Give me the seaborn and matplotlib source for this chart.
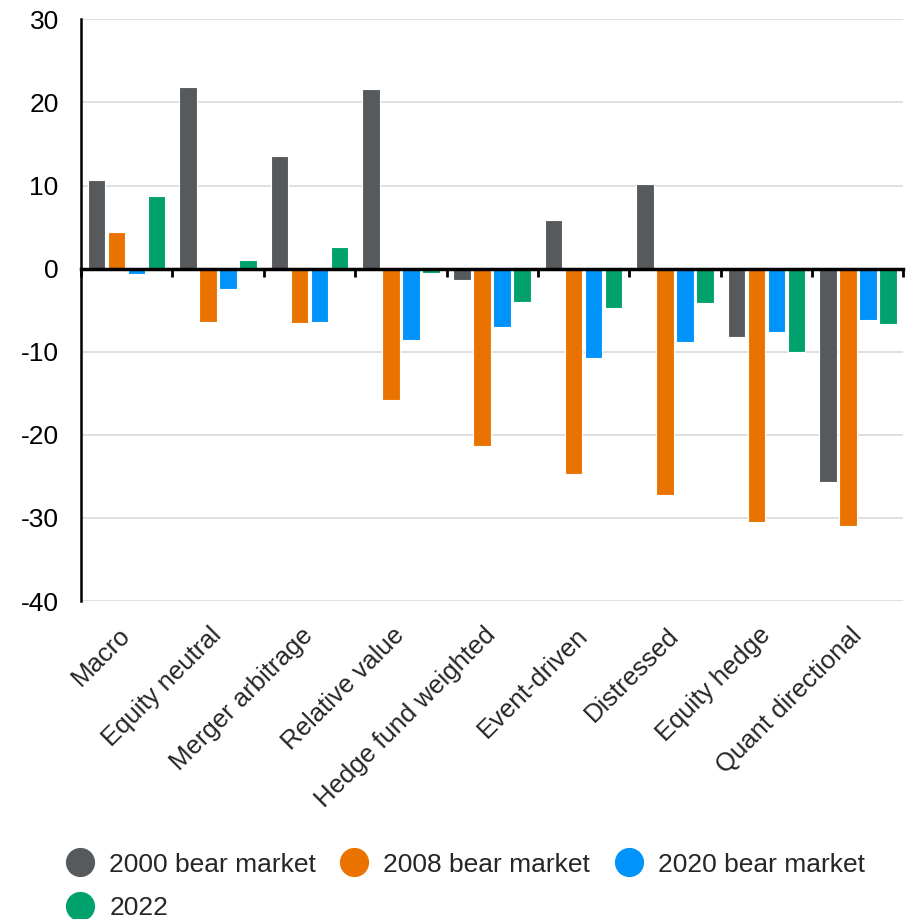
import pandas as pd
import numpy as np
import matplotlib.pyplot as plt
import seaborn as sns
from matplotlib.lines import Line2D

# ========== data ==========
categories = ['Macro', 'Equity neutral', 'Merger arbitrage', 'Relative value',
              'Hedge fund weighted', 'Event-driven', 'Distressed', 'Equity hedge',
              'Quant directional']
series = ['2000 bear market', '2008 bear market', '2020 bear market', '2022']
bear_2000 = [10.7, 21.8, 13.6, 21.6, -1.4, 5.9, 10.2, -8.2, -25.7]
bear_2008 = [4.4, -6.4, -6.6, -15.8, -21.3, -24.7, -27.2, -30.5, -31.0]
bear_2020 = [-0.7, -2.4, -6.4, -8.6, -7.0, -10.8, -8.8, -7.6, -6.2]
year_2022 = [8.7, 1.0, 2.6, -0.5, -4.0, -4.7, -4.1, -10.0, -6.7]
colors = ['#575A5D', '#EA7300', '#0093FA', '#00A16C']
y_ticks = [30, 20, 10, 0, -10, -20, -30, -40]

df = pd.DataFrame({
    'category': categories * 4,
    'series': np.repeat(series, len(categories)),
    'value': bear_2000 + bear_2008 + bear_2020 + year_2022,
})

# ========== plot ==========
sns.set_style('white')
plt.rcParams['font.family'] = ['Liberation Sans', 'DejaVu Sans']
plt.rcParams['axes.unicode_minus'] = False

fig = plt.figure(figsize=(9.2, 9.19), dpi=100)
ax = fig.add_axes([0.088, 0.346, 0.894, 0.633])

sns.barplot(data=df, x='category', y='value', hue='series', order=categories,
            hue_order=series, palette=colors, saturation=1, width=0.876, gap=0.12,
            edgecolor='white', linewidth=0.8, legend=False, ax=ax, zorder=3)

ax.set_ylim(-40, 30)
ax.set_xlim(-0.5, len(categories) - 0.5)
ax.set_yticks(y_ticks)
ax.yaxis.grid(True, color='#D9D9D9', linewidth=1.2, zorder=0)
ax.tick_params(axis='y', length=0, pad=16, labelsize=19, labelcolor='black')
ax.set_xlabel('')
ax.set_ylabel('')

# zero line as the x axis, ticks between categories
for s in ['top', 'right']:
    ax.spines[s].set_visible(False)
ax.spines['left'].set_color('black')
ax.spines['left'].set_linewidth(1.8)
ax.spines['bottom'].set_position(('data', 0))
ax.spines['bottom'].set_color('black')
ax.spines['bottom'].set_linewidth(2.5)
ax.spines['bottom'].set_zorder(5)
ax.set_xticks(np.arange(len(categories) + 1) - 0.5, minor=True)
ax.set_xticks([])
ax.tick_params(axis='x', which='minor', direction='out', length=6, width=2,
               color='black', bottom=True)

# category labels along the bottom
sec = ax.secondary_xaxis(0)
sec.set_xticks(range(len(categories)), categories)
sec.spines['bottom'].set_visible(False)
sec.tick_params(axis='x', length=0, pad=22, labelsize=18.5)
for lab in sec.get_xticklabels():
    lab.set_rotation(45)
    lab.set_ha('right')
    lab.set_va('center')
    lab.set_rotation_mode('anchor')

# legend, filled row by row
handles = [Line2D([], [], marker='o', linestyle='', markersize=20,
                  markerfacecolor=c, markeredgecolor=c) for c in colors]
order = [0, 3, 1, 2]
fig.legend([handles[i] for i in order], [series[i] for i in order],
           loc='upper left', bbox_to_anchor=(0.047, 0.098),
           ncol=3, frameon=False, fontsize=19, handletextpad=0.6,
           columnspacing=0.95, labelspacing=0.75, handlelength=1.0)

fig.savefig('out.png', dpi=100)
